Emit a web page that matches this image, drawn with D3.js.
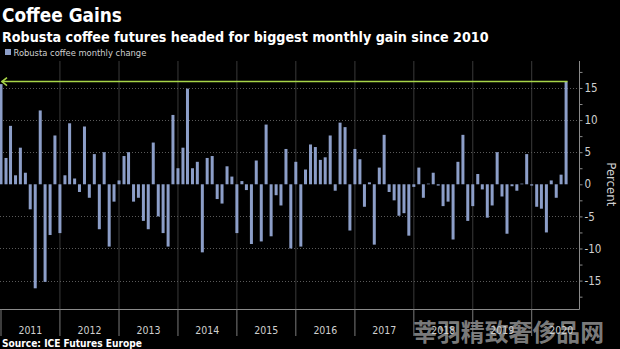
<!DOCTYPE html>
<html>
<head>
<meta charset="utf-8">
<script src="https://cdn.jsdelivr.net/npm/d3@7"></script>
<style>
  html, body { margin: 0; padding: 0; background: #000; }
  svg { display: block; }
</style>
</head>
<body>
<svg id="chart" width="620" height="349"></svg>
<script>
// ---- data ----
const title = "Coffee Gains";
const subtitle = "Robusta coffee futures headed for biggest monthly gain since 2010";
const seriesName = "Robusta coffee monthly change";
const sourceText = "Source: ICE Futures Europe";
const yAxisTitle = "Percent";
const watermark = "莘羽精致奢侈品网";

const firstMonth = new Date(2011, 0, 1);
const endMonth = new Date(2020, 8, 1); // exclusive
const yearLabels = ["2011","2012","2013","2014","2015","2016","2017","2018","2019","2020"];
const yTickValues = [-15, -10, -5, 0, 5, 10, 15];
const highlightLevel = 16.0;

const monthlyChange = [
  15.6, 4.1, 9.1, 1.4, 5.7, 1.8, -3.9, -16.2, 11.5, -15.2, -7.9, 7.6,
  -7.6, 1.4, 9.5, 0.9, -1.2, 9.0, -2.1, 4.7, -7.0, 5.0, -9.7, -2.7,
  0.6, 4.4, 5.0, -2.7, -2.1, -5.7, -7.0, 6.5, -5.0, -7.6, -9.7, 10.8,
  2.5, 5.7, 14.9, 2.5, 3.5, -10.6, 4.1, 4.4, -2.3, -3.0, 2.8, 1.2,
  -7.6, 0.5, -0.9, -9.3, 3.7, -8.9, 9.3, -8.1, -1.7, -3.3, 5.5, -10.0,
  3.5, -9.7, 2.3, 6.2, 5.8, 3.8, 4.2, 7.6, -1.0, 9.6, 8.9, -7.2,
  5.5, 3.9, -3.5, 0.3, -9.4, 2.6, 7.7, -1.2, -2.5, -4.9, -4.5, -8.0,
  -0.4, 2.6, -2.1, 0.1, 1.8, -0.2, -3.4, -2.7, -8.6, 3.5, 7.7, -5.7,
  -3.4, 1.6, -0.8, -5.2, -3.3, 5.0, -1.9, -7.7, -0.3, -1.0, 0.1, 4.7,
  -0.2, -3.5, -3.8, -7.5, 0.6, -2.1, 1.5, 16.0
];

// ---- setup ----
const months = d3.timeMonth.range(firstMonth, endMonth);
const data = months.map((d, i) => ({ date: d, value: monthlyChange[i] }));

const W = 620, H = 349;
const plot = { left: 0, right: 579.5, top: 61, bottom: 309.5 };
const barColor = "#8c9ec8";
const green = "#a7d548";
const textColor = "#d0d0d0";
const condensed = "'DejaVu Sans Condensed', 'DejaVu Sans', sans-serif";

const svg = d3.select("#chart");
svg.append("rect").attr("width", W).attr("height", H).attr("fill", "#000");

// calibrated time scale: Jan 2011 at x=1, Jan 2020 at x=531.7
const xCal = d3.scaleTime()
  .domain([new Date(2011, 0, 1), new Date(2020, 0, 1)])
  .range([1, 531.7]);
const x = d3.scaleTime()
  .domain([xCal.invert(plot.left), xCal.invert(plot.right)])
  .range([plot.left, plot.right]);

const y = d3.scaleLinear()
  .domain([-19.5, 19.2])
  .range([plot.bottom, plot.top]);

function fitWidth(sel, target) {
  const node = sel.node();
  const fs = parseFloat(sel.attr("font-size"));
  const w = node.getComputedTextLength();
  if (w > 0) sel.attr("font-size", (fs * target / w).toFixed(2));
  return sel;
}

// ---- grid ----
const yearStarts = d3.timeYear.range(new Date(2011, 0, 1), new Date(2021, 0, 1));
svg.append("g").selectAll("line").data(yearStarts.slice(1)).join("line")
  .attr("x1", d => x(d)).attr("x2", d => x(d))
  .attr("y1", plot.top).attr("y2", plot.bottom)
  .attr("stroke", "#3a3a3a").attr("stroke-width", 1);

svg.append("g").selectAll("line").data(yTickValues.filter(v => v !== 0)).join("line")
  .attr("x1", plot.left).attr("x2", plot.right)
  .attr("y1", d => Math.round(y(d)) + 0.5).attr("y2", d => Math.round(y(d)) + 0.5)
  .attr("stroke", "#5a5a5a").attr("stroke-width", 1)
  .attr("stroke-dasharray", "1,2");

// ---- bars ----
const barW = 3;
svg.append("g").selectAll("rect").data(data).join("rect")
  .attr("x", d => x(d.date) - barW / 2)
  .attr("width", barW)
  .attr("y", d => y(Math.max(0, d.value)))
  .attr("height", d => Math.abs(y(d.value) - y(0)))
  .attr("fill", barColor);

// ---- highlight arrow ----
const last = data[data.length - 1];
const gy = y(highlightLevel);
const gArrow = svg.append("g").attr("stroke", green).attr("fill", "none").attr("stroke-width", 1.6);
gArrow.append("line")
  .attr("x1", x(data[0].date) + 0.5).attr("x2", x(last.date) + barW / 2)
  .attr("y1", gy).attr("y2", gy);
gArrow.append("path")
  .attr("d", `M${x(data[0].date) + 6},${gy - 4} L${x(data[0].date) + 1},${gy} L${x(data[0].date) + 6},${gy + 4}`);

// ---- bottom axis ----
svg.append("line")
  .attr("x1", plot.left).attr("x2", plot.right)
  .attr("y1", plot.bottom).attr("y2", plot.bottom)
  .attr("stroke", "#8a8a8a").attr("stroke-width", 1.2);
svg.append("g").selectAll("line").data(yearStarts).join("line")
  .attr("x1", d => x(d)).attr("x2", d => x(d))
  .attr("y1", plot.bottom).attr("y2", 336)
  .attr("stroke", "#7a7a7a").attr("stroke-width", 1);

// ---- watermark (drawn beneath the year labels, as in the reference) ----
const wm = svg.append("text").attr("x", 413).attr("y", 341)
  .attr("font-family", "'Noto Sans CJK SC', sans-serif")
  .attr("font-weight", "bold")
  .attr("font-size", 23).attr("fill", "#8c8c8c").attr("fill-opacity", 0.9)
  .text(watermark);
fitWidth(wm, 191);

const yearMid = yearLabels.map(s => new Date(+s, 6, 2));
const yl = svg.append("g").selectAll("text").data(yearLabels).join("text")
  .attr("x", (d, i) => x(yearMid[i]))
  .attr("y", 334)
  .attr("text-anchor", "middle")
  .attr("font-family", condensed)
  .attr("font-size", 12)
  .attr("fill", textColor)
  .text(d => d);
yl.each(function() { fitWidth(d3.select(this), 24); });

// ---- right axis ----
const yAxis = d3.axisRight(y)
  .tickValues(d3.range(-17.5, 17.6, 2.5))
  .tickSize(3)
  .tickFormat(v => (v % 5 === 0 ? d3.format("d")(v).replace("−", "-") : ""));
const ga = svg.append("g")
  .attr("transform", `translate(${plot.right},0)`)
  .call(yAxis);
ga.select(".domain").attr("stroke", "#8a8a8a").attr("d", `M0,${plot.top}V${plot.bottom}`);
ga.selectAll(".tick line").attr("stroke", "#8a8a8a");
ga.selectAll(".tick text")
  .attr("fill", textColor)
  .attr("font-family", condensed)
  .attr("font-size", 11.5)
  .attr("x", 5);

svg.append("text")
  .attr("transform", `translate(607,${y(0)}) rotate(90)`)
  .attr("text-anchor", "middle")
  .attr("font-family", condensed)
  .attr("font-size", 13)
  .attr("fill", textColor)
  .text(yAxisTitle);

// ---- titles ----
const t1 = svg.append("text").attr("x", 2).attr("y", 22)
  .attr("font-family", condensed).attr("font-weight", "bold")
  .attr("font-size", 19).attr("fill", "#ffffff").text(title);
fitWidth(t1, 120);
const t2 = svg.append("text").attr("x", 2).attr("y", 42)
  .attr("font-family", condensed).attr("font-weight", "bold")
  .attr("font-size", 14).attr("fill", "#ffffff").text(subtitle);
fitWidth(t2, 487);

// ---- legend ----
svg.append("rect").attr("x", 5).attr("y", 49).attr("width", 6).attr("height", 6).attr("fill", barColor);
const lt = svg.append("text").attr("x", 13.5).attr("y", 55.5)
  .attr("font-family", condensed).attr("font-size", 10.5)
  .attr("fill", textColor).text(seriesName);
fitWidth(lt, 133);

// ---- source ----
const st = svg.append("text").attr("x", 2).attr("y", 347)
  .attr("font-family", condensed).attr("font-weight", "bold")
  .attr("font-size", 9.5).attr("fill", "#ffffff").text(sourceText);
fitWidth(st, 140);
</script>
</body>
</html>
